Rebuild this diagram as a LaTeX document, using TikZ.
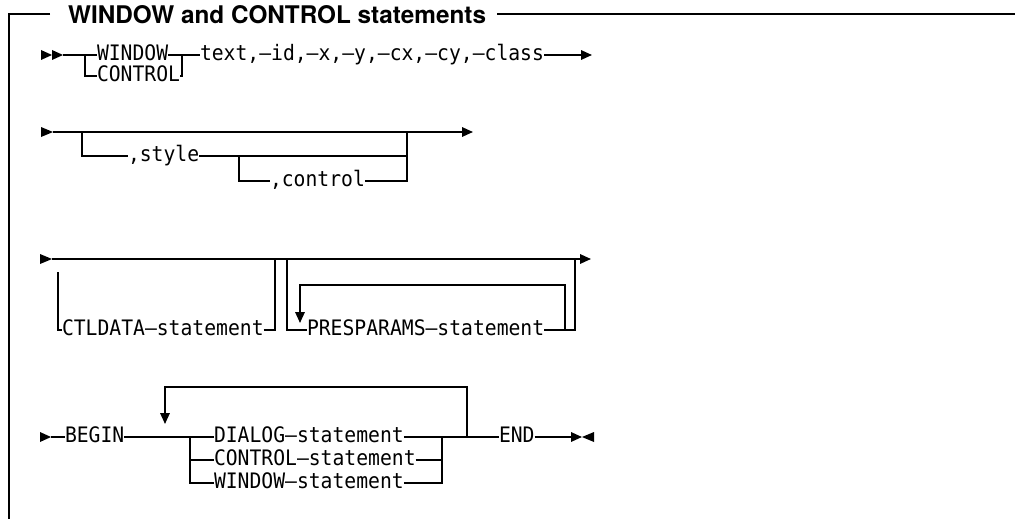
\documentclass[tikz,border=0pt]{standalone}
\usepackage{fontspec}
\usetikzlibrary{arrows.meta}
\newfontfamily\railfont[FakeStretch=0.925]{DejaVu Sans Mono}
\newfontfamily\headfont{TeX Gyre Heros}
\begin{document}
\begin{tikzpicture}[x=1pt,y=-1pt,
  rail/.style={line width=1.7pt},
  railend/.style={rail,-{Triangle[length=11pt,width=9.5pt]}},
  term/.style={inner sep=0pt,outer sep=0pt,anchor=west,
    text height=12pt,text depth=1pt,
    font=\railfont\fontsize{21.3}{22}\selectfont},
  headtxt/.style={inner sep=0pt,anchor=west,
    font=\headfont\bfseries\fontsize{24.3}{28}\selectfont}]
\useasboundingbox (0,0) rectangle (1015,519);
\fill[white] (0,0) rectangle (1015,519);

% frame with the heading
\node[headtxt] (ttl) at (68,14.5) {WINDOW and CONTROL statements};
\coordinate (fr1) at (50,14);
\coordinate (fr2) at (9,14);
\coordinate (fr3) at (9,519);
\coordinate (fr4) at (497,14);
\coordinate (fr5) at (1015,14);
\draw[rail] (fr1) -- (fr2) -- (fr3);
\draw[rail] (fr4) -- (fr5);

% ---------- row 1 ----------
\coordinate (s1a) at (52,55);
\coordinate (s1b) at (63,55);
\fill (s1a) -- ++(-11,-5) -- ++(0,10) -- cycle;
\fill (s1b) -- ++(-11,-5) -- ++(0,10) -- cycle;
\node[term] (win) at (97,55) {WINDOW};
\node[term] (ctl) at (97,76) {CONTROL};
\node[term] (txt) at (200,55) {text,—id,—x,—y,—cx,—cy,—class};
\coordinate (j1a) at (85,55);
\coordinate (j1b) at (85,76);
\coordinate (j1c) at (182,55);
\coordinate (j1d) at (182,76);
\coordinate (e1) at (592,55);
\draw[rail] (s1b) -- (win.west);
\draw[rail] (j1a) -- (j1b) -- (ctl.west);
\draw[rail] (win.east) -- (txt.west);
\draw[rail] (ctl.east) -- (j1d) -- (j1c);
\draw[railend] (txt.east) -- (e1);

% ---------- row 2 ----------
\coordinate (s2) at (53,132);
\fill (s2) -- ++(-12,-5) -- ++(0,10) -- cycle;
\coordinate (e2) at (473,132);
\node[term] (sty) at (128,156) {,style};
\node[term] (ctr) at (270,181) {,control};
\coordinate (j2a) at (82,132);
\coordinate (j2b) at (82,156);
\coordinate (j2c) at (239,156);
\coordinate (j2d) at (239,181);
\coordinate (j2e) at (407,181);
\coordinate (j2f) at (407,156);
\coordinate (j2g) at (407,132);
\draw[railend] (s2) -- (e2);
\draw[rail] (j2a) -- (j2b) -- (sty.west);
\draw[rail] (sty.east) -- (j2f) -- (j2g);
\draw[rail] (j2c) -- (j2d) -- (ctr.west);
\draw[rail] (ctr.east) -- (j2e) -- (j2f);

% ---------- row 3 ----------
\coordinate (s3) at (52,259);
\fill (s3) -- ++(-12,-5) -- ++(0,10) -- cycle;
\coordinate (e3) at (591,259);
\node[term] (cdat) at (62,330) {CTLDATA—statement};
\node[term] (pres) at (307,330) {PRESPARAMS—statement};
\coordinate (j3a) at (58,272);
\coordinate (j3b) at (58,330);
\coordinate (j3c) at (275,330);
\coordinate (j3d) at (275,259);
\coordinate (j3e) at (287,259);
\coordinate (j3f) at (287,330);
\coordinate (j3g) at (575,330);
\coordinate (j3h) at (575,259);
\coordinate (l3a) at (565,330);
\coordinate (l3b) at (565,285);
\coordinate (l3c) at (300,285);
\coordinate (l3d) at (300,323);
\draw[railend] (s3) -- (e3);
\draw[rail] (j3a) -- (j3b) -- (cdat.west);
\draw[rail] (cdat.east) -- (j3c) -- (j3d);
\draw[rail] (j3e) -- (j3f) -- (pres.west);
\draw[rail] (pres.east) -- (j3g) -- (j3h);
\draw[railend] (l3a) -- (l3b) -- (l3c) -- (l3d);

% ---------- row 4 ----------
\coordinate (s4) at (51,437);
\fill (s4) -- ++(-11,-5) -- ++(0,10) -- cycle;
\node[term] (beg) at (65,437) {BEGIN};
\node[term] (dia) at (214,437) {DIALOG—statement};
\node[term] (con) at (214,460) {CONTROL—statement};
\node[term] (wst) at (214,483) {WINDOW—statement};
\node[term] (fin) at (499,437) {END};
\coordinate (j4a) at (190,437);
\coordinate (j4b) at (190,460);
\coordinate (j4c) at (190,483);
\coordinate (j4d) at (442,437);
\coordinate (j4e) at (442,460);
\coordinate (j4f) at (442,483);
\coordinate (l4a) at (467,437);
\coordinate (l4b) at (467,387);
\coordinate (l4c) at (165,387);
\coordinate (l4d) at (165,424);
\coordinate (e4) at (582,437);
\draw[rail] (s4) -- (beg.west);
\draw[rail] (beg.east) -- (dia.west);
\draw[rail] (j4a) -- (j4b) -- (con.west);
\draw[rail] (j4b) -- (j4c) -- (wst.west);
\draw[rail] (dia.east) -- (fin.west);
\draw[rail] (con.east) -- (j4e);
\draw[rail] (wst.east) -- (j4f) -- (j4d);
\draw[railend] (l4a) -- (l4b) -- (l4c) -- (l4d);
\draw[railend] (fin.east) -- (e4);
\fill (e4) -- ++(12,-5) -- ++(0,10) -- cycle;
\end{tikzpicture}
\end{document}
